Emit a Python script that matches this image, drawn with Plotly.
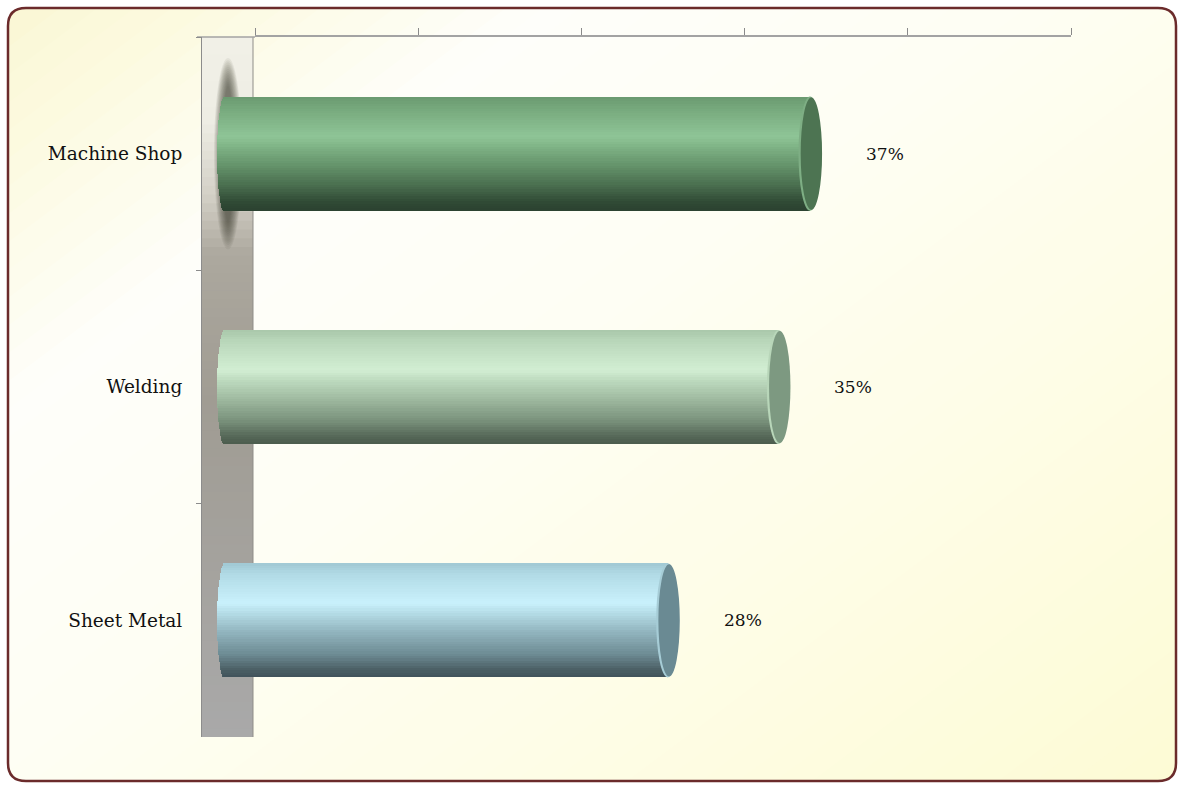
import numpy as np
import plotly.graph_objects as go

# ---------------- data ----------------
categories = ["Machine Shop", "Welding", "Sheet Metal"]
shares = [37, 35, 28]            # percent
axis_max = 50
axis_step = 10

# ---------------- style / geometry ----------------
W, H = 1179, 787
PLOT_TOP, PLOT_BOT = 37, 737
WALL_L, WALL_R = 202, 253
FRONT_ZERO = 225          # px where the bars' front face starts (0 %)
PX_PER_PCT = 15.81
BACK_ZERO, BACK_RIGHT = 255, 1071
BAR_FRAC = 0.489
BULGE_L = 8
CAP_A = 11.5
FONT = "DejaVu Serif"

body_stops = [
    [(0, "#6a9a70"), (0.1, "#76a87c"), (0.35, "#8fc597"), (0.45, "#7db184"),
     (0.6, "#65946b"), (0.8, "#46694b"), (0.93, "#2f4934"), (1, "#2b4230")],
    [(0, "#a9c7aa"), (0.1, "#b9d7ba"), (0.35, "#d2eed3"), (0.45, "#bcd9bd"),
     (0.6, "#a0bba1"), (0.8, "#78907a"), (0.93, "#566858"), (1, "#4c5c4e")],
    [(0, "#a0c8d3"), (0.1, "#b2dbe6"), (0.35, "#c9f1fc"), (0.45, "#b2d9e3"),
     (0.6, "#92b5bf"), (0.8, "#6d8b93"), (0.93, "#4b5f65"), (1, "#41525a")],
]
cap_colors = ["#4d7452", "#7d9981", "#6a8a93"]
rim_colors = ["#7eae84", "#b8d6b9", "#a6ccd6"]


def hex2rgb(h):
    h = h.lstrip("#")
    return np.array([int(h[i:i + 2], 16) for i in (0, 2, 4)], dtype=float)


def interp(stops, t):
    for (t0, c0), (t1, c1) in zip(stops[:-1], stops[1:]):
        if t <= t1:
            f = 0 if t1 == t0 else (t - t0) / (t1 - t0)
            c = hex2rgb(c0) * (1 - f) + hex2rgb(c1) * f
            return "rgb(%d,%d,%d)" % tuple(np.round(c))
    c = hex2rgb(stops[-1][1])
    return "rgb(%d,%d,%d)" % tuple(c)


def px(x):
    return x / W


def py(y):
    return 1 - y / H


fig = go.Figure()

# ---------------- cylinder bodies (horizontal strips) ----------------
N = 48
w = BAR_FRAC / N
for j in range(N):
    tc = -1 + (2 * j + 1) / N
    ext = BULGE_L * np.sqrt(max(0.0, 1 - tc ** 2)) / PX_PER_PCT
    off = -BAR_FRAC / 2 + j * w
    width = min(w * 1.7, BAR_FRAC / 2 - off)
    cols = [interp(body_stops[i], (j + 0.5) / N) for i in range(len(categories))]
    fig.add_trace(go.Bar(
        orientation="h", y=categories, x=[v + ext for v in shares],
        base=[-ext] * len(categories), width=width, offset=off,
        marker=dict(color=cols, line=dict(width=0)),
        hoverinfo="skip", showlegend=False, xaxis="x", yaxis="y"))

# dummy trace so the top (back) axis is drawn
fig.add_trace(go.Scatter(x=[0, axis_max], y=[categories[0]] * 2, mode="none",
                         xaxis="x2", yaxis="y", hoverinfo="skip", showlegend=False))

shapes = []

# ---------------- background (diagonal cream gradient) ----------------
bg_stops = [(0, "#f9f6d3"), (0.09, "#fcfadf"), (0.25, "#fefefa"), (0.45, "#fefef4"),
            (0.67, "#fefde8"), (1, "#fdfbd4")]
d = np.array([0.6, 0.8])
p = np.array([0.8, -0.6])
smax = 0.6 * W + 0.8 * H
NB = 60
for k in range(NB):
    s1 = smax * k / NB - 2
    s2 = smax * (k + 1) / NB + 2
    if k == 0:
        s1 = -400
    if k == NB - 1:
        s2 = smax + 400
    col = interp(bg_stops, (k + 0.5) / NB)
    pts = [s1 * d - 2500 * p, s1 * d + 2500 * p, s2 * d + 2500 * p, s2 * d - 2500 * p]
    path = "M " + " L ".join("%.5f,%.5f" % (px(q[0]), py(q[1])) for q in pts) + " Z"
    shapes.append(dict(type="path", xref="paper", yref="paper", path=path,
                       fillcolor=col, line=dict(width=0), layer="below"))


def rounded(x0, y0, x1, y1, r):
    rx, ry = r / W, r / H
    X0, X1, Y0, Y1 = px(x0), px(x1), py(y0), py(y1)  # Y0 top (larger)
    return (f"M {X0 + rx},{Y0} L {X1 - rx},{Y0} Q {X1},{Y0} {X1},{Y0 - ry} "
            f"L {X1},{Y1 + ry} Q {X1},{Y1} {X1 - rx},{Y1} L {X0 + rx},{Y1} "
            f"Q {X0},{Y1} {X0},{Y1 + ry} L {X0},{Y0 - ry} Q {X0},{Y0} {X0 + rx},{Y0} Z")


frame = rounded(8, 8, 1176, 781, 18)
shapes.append(dict(type="path", xref="paper", yref="paper",
                   path="M -0.02,-0.02 L 1.02,-0.02 L 1.02,1.02 L -0.02,1.02 Z " + frame,
                   fillcolor="white", fillrule="evenodd", line=dict(width=0), layer="below"))

# ---------------- back wall ----------------
wall_stops = [(0, "#f1f0e7"), (0.12, "#eeede4"), (0.23, "#d2cfc5"), (0.31, "#aca89e"),
              (0.52, "#a09c93"), (1, "#a9a9a9")]
NW = 80
hh = (PLOT_BOT - PLOT_TOP) / NW
for k in range(NW):
    y0 = PLOT_TOP + k * hh
    y1 = min(PLOT_BOT, y0 + hh * 1.6)
    shapes.append(dict(type="rect", xref="paper", yref="paper",
                       x0=px(WALL_L), x1=px(WALL_R), y0=py(y1), y1=py(y0),
                       fillcolor=interp(wall_stops, (k + 0.5) / NW),
                       line=dict(width=0), layer="below"))
shapes.append(dict(type="line", xref="paper", yref="paper", x0=px(WALL_R), x1=px(WALL_R),
                   y0=py(PLOT_TOP), y1=py(PLOT_BOT), line=dict(color="#8f8d88", width=1),
                   layer="below"))
shapes.append(dict(type="line", xref="paper", yref="paper", x0=px(197), x1=px(BACK_ZERO),
                   y0=py(PLOT_TOP), y1=py(PLOT_TOP), line=dict(color="#a3a3a3", width=1.5),
                   layer="below"))

# soft shadow of the top cylinder on the wall
NS = 14
for k in range(NS):
    f = k / (NS - 1)
    hw = 14 - f * 9
    hv = 0.41 - f * 0.12
    shapes.append(dict(type="circle", xref="paper", yref="y",
                       x0=px(228 - hw), x1=px(228 + hw), y0=0 - hv, y1=0 + hv,
                       fillcolor="rgba(70,62,55,0.075)", line=dict(width=0), layer="below"))

# ---------------- cylinder end caps ----------------
a = CAP_A / PX_PER_PCT
for i, v in enumerate(shares):
    shapes.append(dict(type="circle", xref="x", yref="y",
                       x0=v - a, x1=v + a, y0=i - BAR_FRAC / 2, y1=i + BAR_FRAC / 2,
                       fillcolor=rim_colors[i], line=dict(width=0), layer="above"))
    shapes.append(dict(type="circle", xref="x", yref="y",
                       x0=v - a + 2.2 / PX_PER_PCT, x1=v + a + 0.6 / PX_PER_PCT,
                       y0=i - BAR_FRAC / 2 + 0.004, y1=i + BAR_FRAC / 2 - 0.004,
                       fillcolor=cap_colors[i], line=dict(width=0), layer="above"))

# frame border
shapes.append(dict(type="path", xref="paper", yref="paper", path=frame,
                   line=dict(color="#6b2b2b", width=2.5), fillcolor="rgba(0,0,0,0)",
                   layer="above"))

# ---------------- value labels ----------------
annotations = [dict(x=v, y=c, xref="x", yref="y", text=f"{v}%", showarrow=False,
                    xshift=75, xanchor="center", yanchor="middle",
                    font=dict(family=FONT, size=17, color="#111111"))
               for c, v in zip(categories, shares)]

fig.update_layout(
    width=W, height=H, autosize=False,
    margin=dict(l=0, r=0, t=0, b=0, pad=0),
    paper_bgcolor="white", plot_bgcolor="rgba(0,0,0,0)",
    barmode="overlay", bargap=0,
    showlegend=False,
    shapes=shapes, annotations=annotations,
    xaxis=dict(domain=[px(WALL_L), px(BACK_RIGHT)],
               range=[(WALL_L - FRONT_ZERO) / PX_PER_PCT, (BACK_RIGHT - FRONT_ZERO) / PX_PER_PCT],
               visible=False, fixedrange=True, anchor="y"),
    xaxis2=dict(domain=[px(BACK_ZERO), px(BACK_RIGHT)], range=[0, axis_max],
                side="top", anchor="y",
                tickmode="array", tickvals=list(range(0, axis_max + 1, axis_step)),
                showticklabels=False, ticks="outside", ticklen=7, tickcolor="#8a8a8a",
                tickwidth=1, showline=True, linecolor="#a3a3a3", linewidth=1.5,
                showgrid=False, zeroline=False, fixedrange=True),
    yaxis=dict(domain=[py(PLOT_BOT), py(PLOT_TOP)], type="category",
               categoryorder="array", categoryarray=categories,
               range=[len(categories) - 0.5, -0.5], anchor="x",
               showline=True, linecolor="#8c8c8c", linewidth=1,
               ticks="outside", tickson="boundaries", ticklen=5, tickcolor="#8c8c8c",
               ticklabelstandoff=15, automargin=False,
               tickfont=dict(family=FONT, size=18.5, color="#111111"),
               showgrid=False, zeroline=False, fixedrange=True),
)

fig.write_html("out.html", include_plotlyjs=True, config={"displayModeBar": False},
               post_script="document.body.style.margin='0';")
